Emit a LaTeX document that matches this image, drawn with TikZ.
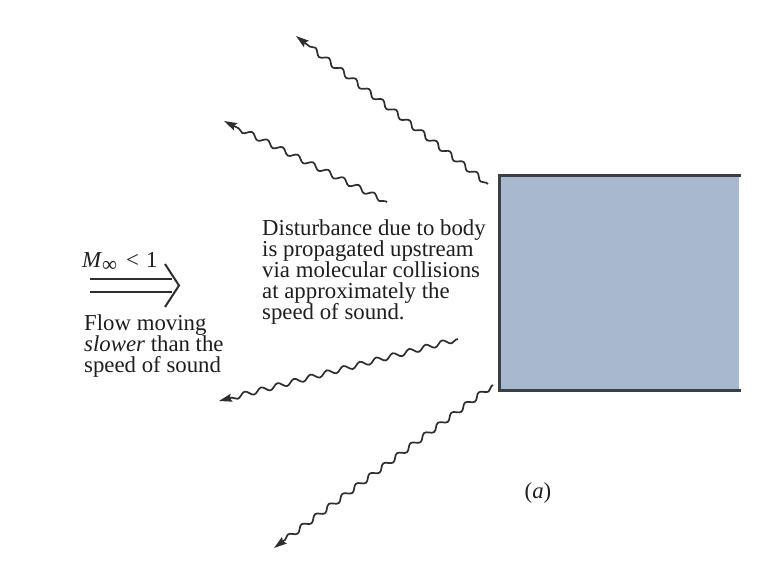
\documentclass[tikz,border=0pt]{standalone}
\usepackage{fontspec}
\setmainfont{Liberation Serif}
\usetikzlibrary{arrows.meta,decorations.pathmorphing}
\definecolor{bodyfill}{HTML}{A8B8CF}
\definecolor{bodyline}{HTML}{3A3F48}
\definecolor{ink}{HTML}{1E1E1E}
\definecolor{wavecol}{HTML}{2E2E2E}
\tikzset{
  wave/.style={decorate, decoration={snake, segment length=17, amplitude=2.6, pre length=2, post length=10},
    -{Stealth[length=13,width=8,inset=2]}, line width=1.7, draw=wavecol},
  lbl/.style={inner sep=0, text=ink, font=\fontsize{22.8}{21.2}\selectfont, align=left},
  edge/.style={draw=bodyline, line width=3},
  flowline/.style={draw=wavecol, line width=2}
}
\begin{document}
\begin{tikzpicture}[x=1pt,y=-1pt]
\useasboundingbox (0,0) rectangle (764,572);
% body
\node[fill=bodyfill, inner sep=0, minimum width=240, minimum height=214, anchor=north west] (body) at (499,176) {};
\draw[edge, line cap=rect] (body.north east) -- (body.north west) -- (body.south west) -- (body.south east);
% wave endpoints
\coordinate (s1) at (488,184); \coordinate (e1) at (296,36);
\coordinate (s2) at (387,202); \coordinate (e2) at (224,121);
\coordinate (s3) at (458,339); \coordinate (e3) at (219,401);
\coordinate (s4) at (493,385); \coordinate (e4) at (274,548);
\draw[wave] (s1) -- (e1);
\draw[wave] (s2) -- (e2);
\draw[wave] (s3) -- (e3);
\draw[wave] (s4) -- (e4);
% texts
\node[lbl, anchor=north west] (dist) at (262,219) {Disturbance due to body\\is propagated upstream\\via molecular collisions\\at approximately the\\speed of sound.};
\node[lbl, anchor=north west] (flow) at (84,314) {Flow moving\\\textit{slower} than the\\speed of sound};
\node[lbl, anchor=base west] (mach) at (82,268) {\textit{M}\raisebox{-4pt}{\fontsize{21}{21}\selectfont ∞}\hspace{9pt}<\hspace{7pt}1};
\node[lbl, anchor=center] (cap) at (538,493) {(\textit{a})};
% double arrow
\coordinate (a1) at (90,279); \coordinate (a2) at (172,279);
\coordinate (b1) at (90,292); \coordinate (b2) at (172,292);
\coordinate (c1) at (165,264); \coordinate (tip) at (179,285.5); \coordinate (c2) at (165,307);
\draw[flowline] (a1) -- (a2);
\draw[flowline] (b1) -- (b2);
\draw[flowline, line join=miter] (c1) -- (tip) -- (c2);
\end{tikzpicture}
\end{document}
